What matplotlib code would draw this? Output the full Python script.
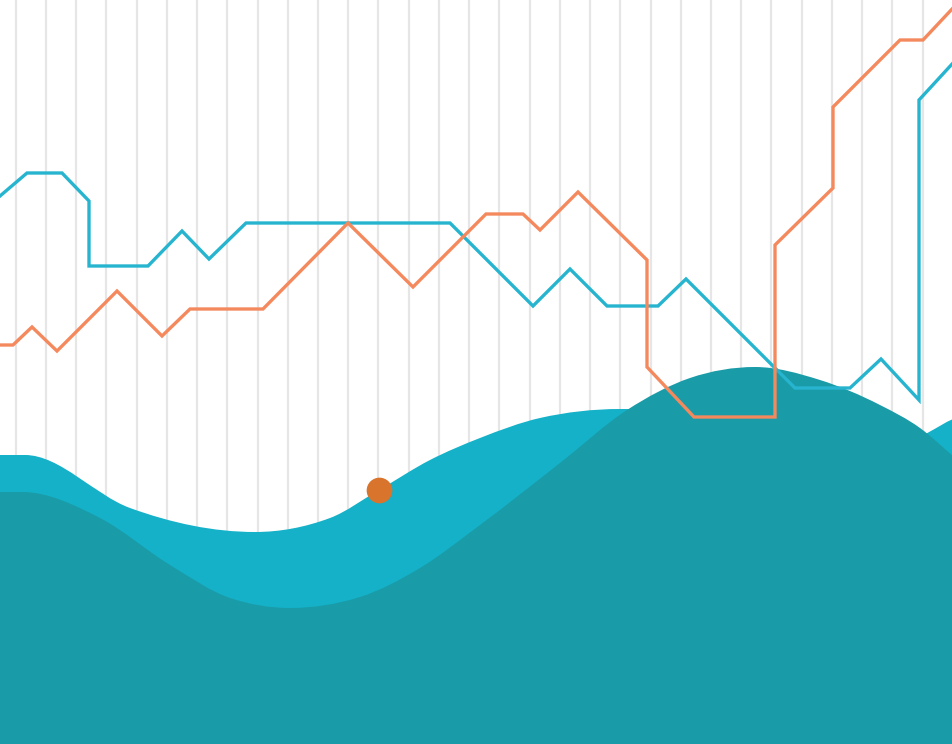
import numpy as np
import matplotlib
matplotlib.use("Agg")
import matplotlib.pyplot as plt
from matplotlib.path import Path
from matplotlib.patches import PathPatch

# ---------------- data ----------------
# two smooth area series
back_x = [0, 25, 130, 255, 330, 379, 430, 480, 540, 620, 750, 850, 905, 953]
back_y = [289, 289, 236, 212, 226, 254, 284, 306, 326, 335, 329, 312, 304, 325]

front_x = [0, 22, 100, 170, 230, 290, 360, 420, 480, 560, 627, 690, 755, 820, 880, 920, 953]
front_y = [252, 252, 226, 179, 146, 136, 147, 176, 219, 281, 334, 366, 377, 364, 339, 316, 288]

# two polyline series
cyan_x = [0, 27, 62, 89, 89, 148, 182, 209, 246, 450, 533, 570, 607, 658, 686,
          795, 850, 881, 919, 919, 953]
cyan_y = [548, 571, 571, 543, 478, 478, 513, 485, 521, 521, 438, 475, 438, 438, 465,
          356, 356, 385, 344, 644, 681]

orange_x = [0, 13, 32, 57, 117, 162, 190, 263, 348, 413, 486, 523, 540, 578, 647,
            647, 694, 775, 775, 833, 833, 900, 923, 953]
orange_y = [399, 399, 417, 393, 453, 408, 435, 435, 521, 457, 530, 530, 514, 552, 484,
            377, 327, 327, 499, 556, 637, 704, 704, 736]

# highlighted point
dot_x = [379]
dot_y = [254]

# ---------------- styling ----------------
C_BACK = "#14b1c8"
C_FRONT = "#1a9ba8"
C_CYAN = "#26b4cf"
C_ORANGE = "#f4895e"
C_DOT = "#d9742d"
C_GRID = "#e6e6e6"


def monotone_tangents(x, y):
    x = np.asarray(x, float)
    y = np.asarray(y, float)
    h = np.diff(x)
    s = np.diff(y) / h
    n = len(x)
    m = np.zeros(n)
    m[0] = s[0]
    m[-1] = s[-1]
    for i in range(1, n - 1):
        if s[i - 1] * s[i] <= 0:
            m[i] = 0.0
        else:
            p = (s[i - 1] * h[i] + s[i] * h[i - 1]) / (h[i - 1] + h[i])
            m[i] = (np.sign(s[i - 1]) + np.sign(s[i])) * min(abs(s[i - 1]), abs(s[i]), 0.5 * abs(p))
    return m


def smooth_area_path(xs, ys, base=0.0):
    """Monotone-in-x cubic through the points, closed down to the base."""
    x = np.asarray(xs, float)
    y = np.asarray(ys, float)
    m = monotone_tangents(x, y)
    verts = [(x[0], base), (x[0], y[0])]
    codes = [Path.MOVETO, Path.LINETO]
    for i in range(len(x) - 1):
        h = x[i + 1] - x[i]
        verts += [(x[i] + h / 3, y[i] + m[i] * h / 3),
                  (x[i + 1] - h / 3, y[i + 1] - m[i + 1] * h / 3),
                  (x[i + 1], y[i + 1])]
        codes += [Path.CURVE4] * 3
    verts += [(x[-1], base), (x[0], base)]
    codes += [Path.LINETO, Path.CLOSEPOLY]
    return Path(verts, codes)


fig = plt.figure(figsize=(9.53, 7.44), dpi=100)
ax = fig.add_axes([0, 0, 1, 1])
ax.set_xlim(0, 953)
ax.set_ylim(0, 744)
for s in ax.spines.values():
    s.set_visible(False)
ax.set_xticks(15.7 + 30.23 * np.arange(31))
ax.set_yticks([])
ax.tick_params(length=0, labelbottom=False, labelleft=False)
ax.set_axisbelow(True)
ax.grid(axis="x", color=C_GRID, linewidth=1.6)

ax.add_patch(PathPatch(smooth_area_path(back_x, back_y), facecolor=C_BACK,
                       edgecolor="none", zorder=1))
ax.add_patch(PathPatch(smooth_area_path(front_x, front_y), facecolor=C_FRONT,
                       edgecolor="none", zorder=2))

ax.plot(cyan_x, cyan_y, color=C_CYAN, linewidth=2.4, solid_joinstyle="miter", zorder=3)
ax.plot(orange_x, orange_y, color=C_ORANGE, linewidth=2.4, solid_joinstyle="miter", zorder=4)
ax.plot(dot_x, dot_y, "o", color=C_DOT, markersize=18.5, markeredgewidth=0, zorder=5)

fig.savefig("out.png", dpi=100)
